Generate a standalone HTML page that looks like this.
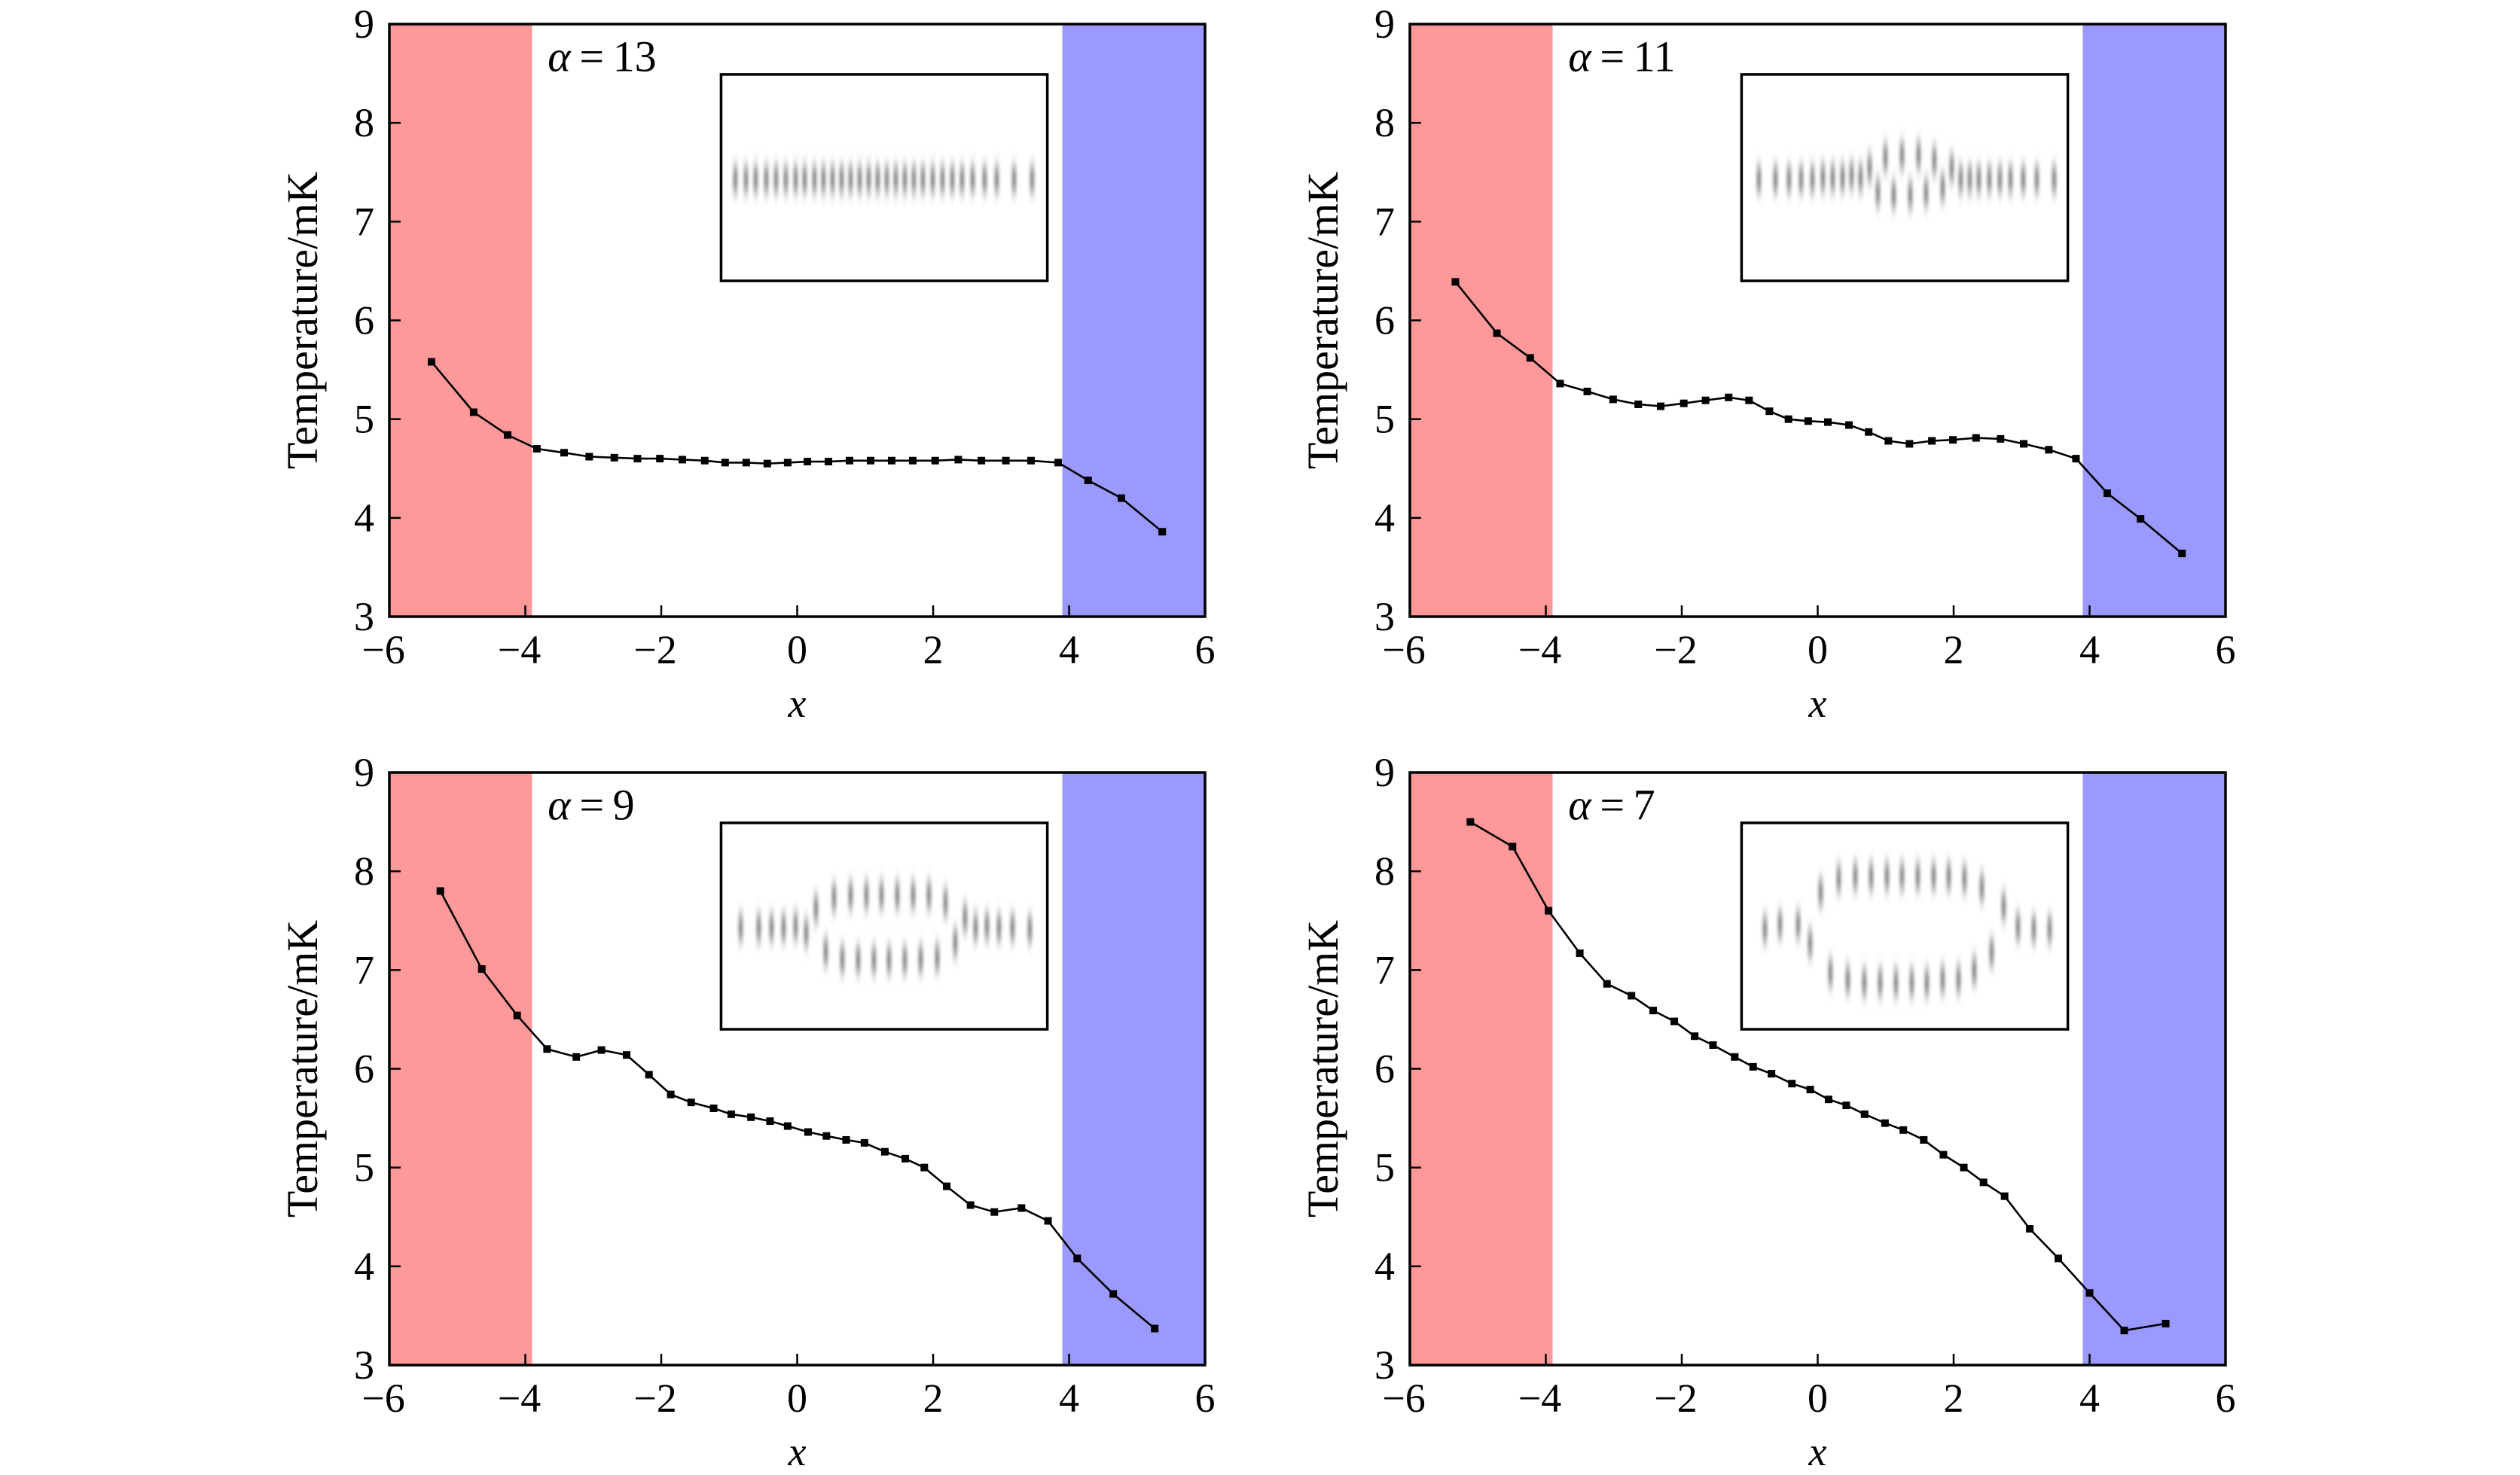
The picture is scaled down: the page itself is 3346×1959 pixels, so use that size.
<!DOCTYPE html>
<html><head><meta charset="utf-8"><style>
html,body{margin:0;padding:0;background:#fff;}
svg{display:block;font-family:"Liberation Serif",serif;}
</style></head><body>
<svg id="chart" width="3346" height="1959" viewBox="0 0 3346 1959">
<defs><filter id="blur" x="-300%" y="-80%" width="700%" height="260%"><feGaussianBlur stdDeviation="2.4 9"/></filter></defs>
</svg>
<script>
const xTicks=[-6,-4,-2,0,2,4,6];
const xTickLabels=["\u22126","\u22124","\u22122","0","2","4","6"];
const yTicks=[3,4,5,6,7,8,9];
const yTickLabels=["3","4","5","6","7","8","9"];
const alphas=["13","11","9","7"];
const x13=[-5.38,-4.76,-4.26,-3.83,-3.43,-3.06,-2.69,-2.35,-2.02,-1.69,-1.36,-1.06,-0.75,-0.44,-0.14,0.15,0.46,0.77,1.08,1.39,1.70,2.03,2.37,2.71,3.07,3.44,3.84,4.28,4.77,5.37];
const y13=[5.58,5.07,4.84,4.70,4.66,4.62,4.61,4.60,4.60,4.59,4.58,4.56,4.56,4.55,4.56,4.57,4.57,4.58,4.58,4.58,4.58,4.58,4.59,4.58,4.58,4.58,4.56,4.38,4.20,3.86];
const x11=[-5.33,-4.72,-4.23,-3.79,-3.39,-3.01,-2.64,-2.31,-1.97,-1.65,-1.31,-1.01,-0.71,-0.43,-0.14,0.15,0.46,0.75,1.04,1.35,1.68,1.99,2.33,2.69,3.03,3.40,3.80,4.26,4.75,5.36];
const y11=[6.39,5.87,5.62,5.36,5.28,5.20,5.15,5.13,5.16,5.19,5.22,5.19,5.08,5.00,4.98,4.97,4.94,4.87,4.78,4.75,4.78,4.79,4.81,4.80,4.75,4.69,4.60,4.25,3.99,3.64];
const x9=[-5.25,-4.64,-4.12,-3.68,-3.25,-2.88,-2.51,-2.18,-1.86,-1.56,-1.23,-0.97,-0.68,-0.40,-0.14,0.16,0.43,0.72,0.99,1.29,1.59,1.87,2.20,2.55,2.90,3.30,3.69,4.12,4.65,5.26];
const y9=[7.80,7.01,6.54,6.20,6.12,6.19,6.14,5.94,5.74,5.66,5.60,5.54,5.51,5.47,5.42,5.36,5.32,5.28,5.25,5.16,5.09,5.00,4.81,4.62,4.55,4.59,4.46,4.08,3.72,3.37];
const x7=[-5.11,-4.49,-3.96,-3.50,-3.10,-2.74,-2.42,-2.11,-1.81,-1.54,-1.22,-0.95,-0.68,-0.38,-0.11,0.16,0.42,0.69,0.99,1.26,1.56,1.85,2.15,2.44,2.75,3.12,3.54,4.00,4.51,5.12];
const y7=[8.50,8.25,7.60,7.17,6.86,6.74,6.59,6.48,6.33,6.24,6.12,6.02,5.95,5.85,5.79,5.69,5.63,5.54,5.45,5.38,5.28,5.13,5.00,4.85,4.71,4.38,4.08,3.73,3.35,3.42];
const ions13=[[19,2],[33,2],[46,2],[60,2],[73,2],[86,2],[99,2],[111,2],[124,2],[136,2],[148,2],[160,2],[172,2],[184,2],[196,2],[208,2],[220,2],[232,2],[244,2],[256,2],[268,2],[281,2],[294,2],[307,2],[320,2],[334,2],[350,2],[366,2],[389,2],[413,2]];
const ions11=[[23,2],[45,2],[63,2],[79,2],[94,2],[108,0],[121,0],[134,0],[146,-3],[158,0],[170,-13],[181,20],[191,-27],[202,23],[213,-30],[224,23],[235,-30],[245,20],[256,-23],[267,13],[279,-13],[291,2],[303,2],[315,2],[329,2],[343,2],[357,2],[374,2],[392,2],[415,2]];
const ions9=[[26,2],[50,2],[67,2],[83,2],[99,0],[113,9],[126,-23],[139,34],[150,-38],[161,44],[172,-41],[182,45],[193,-41],[203,45],[213,-41],[223,45],[234,-41],[244,45],[255,-41],[265,44],[276,-41],[287,42],[298,-31],[311,22],[324,-11],[338,2],[353,0],[369,2],[387,2],[410,4]];
const ions7=[[31,4],[51,-2],[75,-2],[91,23],[105,-45],[129,-63],[151,-66],[172,-66],[193,-66],[213,-66],[234,-66],[255,-66],[275,-66],[296,-63],[319,-51],[348,-26],[367,1],[388,4],[409,4],[118,62],[141,71],[163,75],[184,75],[205,75],[226,75],[246,75],[267,71],[288,71],[309,59],[332,35]];
const xs=[x13,x11,x9,x7], ys=[y13,y11,y9,y7], ionSets=[ions13,ions11,ions9,ions7];
const panels=[[517,32],[1872,32],[517,1026],[1872,1026]];
const W=1083,H=787;
const NS="http://www.w3.org/2000/svg";
const svg=document.getElementById('chart');
function mk(tag,attrs,parent){const e=document.createElementNS(NS,tag);for(const k in attrs)e.setAttribute(k,attrs[k]);(parent||svg).appendChild(e);return e;}
panels.forEach((p,i)=>{
  const L=p[0],T=p[1];
  const sx=v=>L+(v+6)/12*W, sy=v=>T+(9-v)/6*H;
  const g=mk('g',{});
  
  
  const r1=mk('rect',{x:sx(-6),y:T,width:sx(-3.9)-sx(-6),height:H,fill:'#ff9999'},g);
  
  
  const r2=mk('rect',{x:sx(3.9),y:T,width:sx(6)-sx(3.9),height:H,fill:'#9999ff'},g);
  
  
  const ix=sx(-1.12), iy=sy(8.49), iw=sx(3.68)-ix, ih=sy(6.40)-iy;
  const ins=mk('g',{},g);
  
  
  mk('rect',{x:ix,y:iy,width:iw,height:ih,fill:'#fff',stroke:'#000','stroke-width':3.5},ins);
  const cy=iy+ih/2;
  ionSets[i].forEach(d=>{
    const e=mk('ellipse',{cx:ix+d[0],cy:cy+d[1],rx:2.6,ry:20,fill:'#6a6a6a',filter:'url(#blur)'},ins);
    
    
  });
  const X=xs[i],Y=ys[i];
  const pts=X.map((v,k)=>sx(v).toFixed(1)+','+sy(Y[k]).toFixed(1)).join(' ');
  const pl=mk('polyline',{points:pts,fill:'none',stroke:'#000','stroke-width':2.6},g);
  
  
  X.forEach((v,k)=>{
    const m=mk('rect',{x:sx(v)-5,y:sy(Y[k])-5,width:10,height:10,fill:'#000'},g);
    
    
  });
  const fr=mk('rect',{x:L,y:T,width:W,height:H,fill:'none',stroke:'#000','stroke-width':3.5},g);
  
  
  xTicks.forEach((v,k)=>{
    mk('line',{x1:sx(v),x2:sx(v),y1:T+H,y2:T+H-15,stroke:'#000','stroke-width':2.5},g);
    const t=mk('text',{x:sx(v)-(xTickLabels[k].length>1?8:0),y:T+H+62,'text-anchor':'middle','font-size':54},g);
    t.textContent=xTickLabels[k];
    
    
  });
  yTicks.forEach((v,k)=>{
    mk('line',{x1:L,x2:L+15,y1:sy(v),y2:sy(v),stroke:'#000','stroke-width':2.5},g);
    const t=mk('text',{x:L-20,y:sy(v)+18,'text-anchor':'end','font-size':54},g);
    t.textContent=yTickLabels[k];
    
    
  });
  const yt=mk('text',{x:0,y:0,'text-anchor':'middle','font-size':58,transform:`translate(${L-96},${T+H/2}) rotate(-90)`},g);
  yt.textContent='Temperature/mK';
  
  
  const xt=mk('text',{x:L+W/2,y:T+H+133,'text-anchor':'middle','font-size':54,'font-style':'italic'},g);
  xt.textContent='x';
  
  
  const at=mk('text',{x:sx(-3.67),y:sy(8.54)+2,'font-size':58},g);
  at.innerHTML='<tspan font-style="italic">α</tspan>\u2009=\u2009'+alphas[i];
  
  
});
</script>
</body></html>
